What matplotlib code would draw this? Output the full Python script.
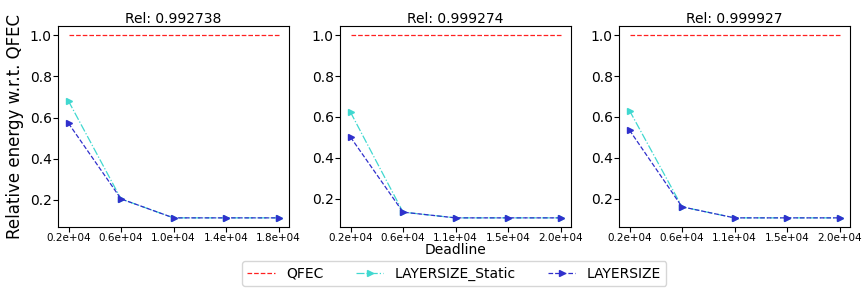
import matplotlib
matplotlib.use("Agg")
import matplotlib.pyplot as plt

titles = ["Rel: 0.992738", "Rel: 0.999274", "Rel: 0.999927"]
xticklabels = [
    ["0.2e+04", "0.6e+04", "1.0e+04", "1.4e+04", "1.8e+04"],
    ["0.2e+04", "0.6e+04", "1.1e+04", "1.5e+04", "2.0e+04"],
    ["0.2e+04", "0.6e+04", "1.1e+04", "1.5e+04", "2.0e+04"],
]
qfec = [1.0, 1.0, 1.0, 1.0, 1.0]
static_vals = [
    [0.680, 0.205, 0.113, 0.113, 0.113],
    [0.623, 0.134, 0.106, 0.106, 0.106],
    [0.631, 0.160, 0.106, 0.106, 0.106],
]
layersize_vals = [
    [0.572, 0.205, 0.113, 0.113, 0.113],
    [0.501, 0.134, 0.106, 0.106, 0.106],
    [0.535, 0.160, 0.106, 0.106, 0.106],
]

fig = plt.figure(figsize=(8.65, 2.89), dpi=100)
lefts = [58, 340, 619]
W, H = 865, 289
axes = []
for i in range(3):
    ax = fig.add_axes([lefts[i] / W, (H - 227) / H, 231 / W, 201 / H])
    x = list(range(len(qfec)))
    ax.plot(x, qfec, linestyle="--", color="#ff2020", linewidth=0.9, label="QFEC")
    ax.plot(x, static_vals[i], linestyle="-.", color="#40d8d0", marker=">",
            markersize=4.5, linewidth=0.9, label="LAYERSIZE_Static")
    ax.plot(x, layersize_vals[i], linestyle="--", color="#3030cc", marker=">",
            markersize=4.5, linewidth=0.9, label="LAYERSIZE")
    ax.set_xticks(x)
    ax.set_xticklabels(xticklabels[i], fontsize=7.5)
    ax.set_yticks([0.2, 0.4, 0.6, 0.8, 1.0])
    ax.tick_params(axis="y", labelsize=10, pad=1)
    ax.tick_params(axis="x", pad=1)
    ax.set_title(titles[i], fontsize=10, pad=1)
    axes.append(ax)

axes[0].set_ylabel("Relative energy w.r.t. QFEC", fontsize=12, labelpad=4)
axes[1].set_xlabel("Deadline", fontsize=10, labelpad=0)
handles, labels = axes[0].get_legend_handles_labels()
fig.legend(handles, labels, loc="lower center", ncol=3, fontsize=10,
           bbox_to_anchor=(0.525, 0.0), borderaxespad=0.2, columnspacing=2.3)

fig.savefig("out.png", dpi=100)
